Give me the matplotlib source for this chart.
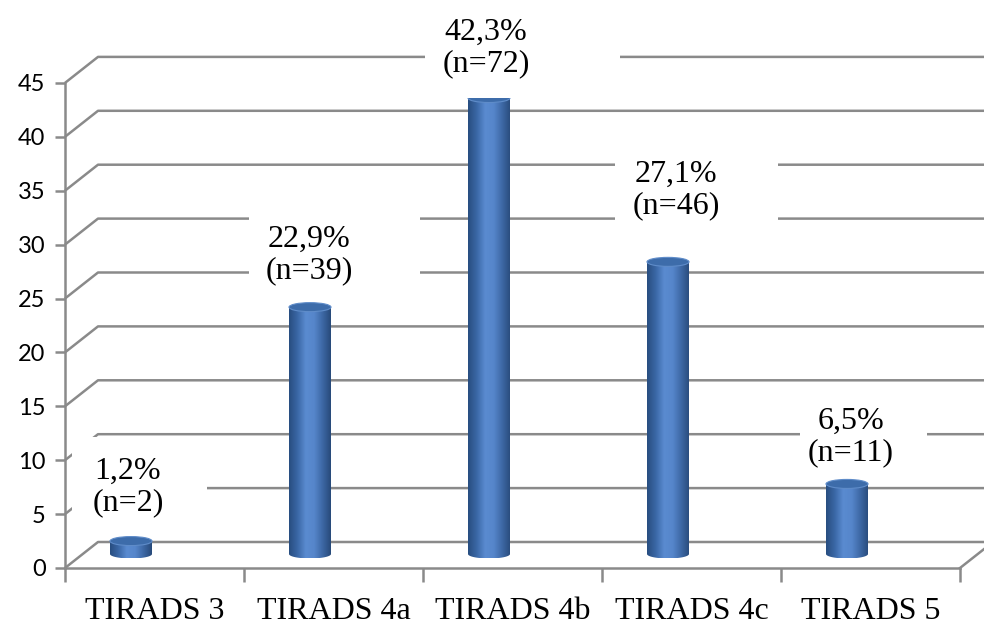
import matplotlib
matplotlib.use("Agg")
import matplotlib.pyplot as plt
import numpy as np
from matplotlib.patches import Ellipse, Rectangle, Polygon
from matplotlib.colors import LinearSegmentedColormap

categories = ["TIRADS 3", "TIRADS 4a", "TIRADS 4b", "TIRADS 4c", "TIRADS 5"]
percent = [1.2, 22.9, 42.3, 27.1, 6.5]
counts = [2, 39, 72, 46, 11]
yticks = [0, 5, 10, 15, 20, 25, 30, 35, 40, 45]

# pixel scale of the plot area: one category = 179 px, one unit = 10.78 px
W, H = 984, 628
X0, Y0 = 65, 568
CAT_PX, UNIT_PX = 179.0, 10.78


def px(x, y):
    return (x - X0) / CAT_PX, (Y0 - y) / UNIT_PX


fig = plt.figure(figsize=(W / 100, H / 100), dpi=100)
ax = fig.add_axes([X0 / W, (H - Y0) / H, 1 - X0 / W, Y0 / H])
ax.set_xlim(0, (W - X0) / CAT_PX)
ax.set_ylim(0, Y0 / UNIT_PX)
ax.patch.set_visible(False)

grey = "#8a8a8a"
for s in ["top", "right"]:
    ax.spines[s].set_visible(False)
ax.spines["left"].set_bounds(0, 45)
ax.spines["bottom"].set_bounds(0, 5)
for s in ["left", "bottom"]:
    ax.spines[s].set_color(grey)
    ax.spines[s].set_linewidth(1.8)

ax.set_yticks(yticks)
ax.set_yticklabels([str(v) for v in yticks], fontfamily="Lato", fontsize=17)
ax.tick_params(axis="y", length=7, width=1.8, color=grey, pad=7)
ax.set_xticks(range(6))
ax.set_xticklabels([])
ax.tick_params(axis="x", which="major", length=10, width=1.8, color=grey)
ax.set_xticks(np.arange(len(categories)) + 0.5, minor=True)
ax.set_xticklabels(categories, minor=True, fontfamily="Liberation Serif", fontsize=23)
ax.tick_params(axis="x", which="minor", length=0, pad=21)

# depth of the back wall
ddx, ddy = 33 / CAT_PX, 26 / UNIT_PX
xend = (W - X0) / CAT_PX
for v in yticks:
    ax.plot([0, ddx, xend], [v, v + ddy, v + ddy], color=grey, lw=1.8,
            zorder=1, clip_on=False, solid_capstyle="butt")
ax.plot([5, 5 + ddx], [0, ddy], color=grey, lw=1.8, zorder=1, clip_on=False)

# cylinders
body = LinearSegmentedColormap.from_list(
    "cyl", ["#284d80", "#3a67a5", "#5a8bd0", "#5686cb", "#3d68a5", "#284a7a"])
grad = np.linspace(0, 1, 200).reshape(1, -1)
bw = 42 / CAT_PX
ell = 9 / UNIT_PX
base = 14 / UNIT_PX
shift = 66 / CAT_PX
for i, v in enumerate(percent):
    cx = i + shift
    yb, yt = base, base + v
    t = np.linspace(np.pi, 2 * np.pi, 40)
    arc = np.column_stack([cx + bw / 2 * np.cos(t), yb + ell / 2 * np.sin(t)])
    pts = np.vstack([[cx - bw / 2, yt], arc, [cx + bw / 2, yt]])
    poly = Polygon(pts, closed=True, facecolor="none", edgecolor="none", zorder=3)
    ax.add_patch(poly)
    im = ax.imshow(grad, cmap=body, aspect="auto", interpolation="bilinear",
                   extent=(cx - bw / 2, cx + bw / 2, yb - ell / 2, yt), zorder=3)
    im.set_clip_path(poly)
    ax.add_patch(Ellipse((cx, yt), bw, ell, facecolor="#3d6caa",
                         edgecolor="#5f8cc9", lw=0.8, zorder=4))

# value labels on white boxes
label_xy = [(128, 487), (309, 255), (486, 48), (676, 190), (851, 437)]
boxes = [(72, 437, 207, 525), (249, 205, 420, 300), (425, 8, 620, 98),
         (615, 148, 778, 238), (800, 395, 927, 460)]
for i in range(len(percent)):
    x1, y1 = px(boxes[i][0], boxes[i][3])
    x2, y2 = px(boxes[i][2], boxes[i][1])
    rect = Rectangle((x1, y1), x2 - x1, y2 - y1, facecolor="white",
                     edgecolor="none", zorder=5, clip_on=False)
    ax.add_patch(rect)
    txt = f"{percent[i]:.1f}%".replace(".", ",") + f"\n(n={counts[i]})"
    tx, ty = px(*label_xy[i])
    t = ax.text(tx, ty, txt, ha="center", va="center", fontsize=23,
                fontfamily="Liberation Serif", linespacing=1.1, zorder=6)
    t.set_clip_path(rect)

fig.savefig("out.png", dpi=100)
